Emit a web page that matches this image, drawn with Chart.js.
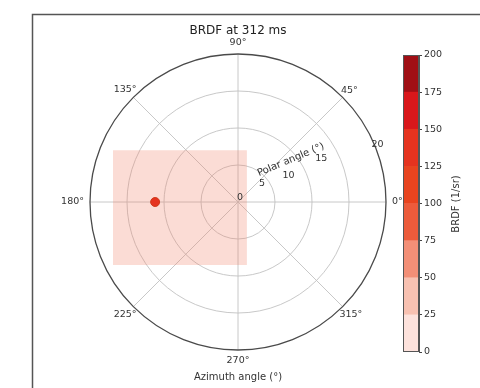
<!DOCTYPE html>
<html lang="en">
<head>
  <meta charset="UTF-8">
  <title>BRDF at 312 ms</title>
  <script src="https://cdn.jsdelivr.net/npm/chart.js"></script>
  <style>
    body { margin: 0; background: #fff; }
    .wrap { position: relative; width: 480px; height: 388px; }
    #polar { position: absolute; left: 0; top: 0; }
    #cbar { position: absolute; left: 398px; top: 45px; }
  </style>
</head>
<body>
  <div class="wrap">
    <canvas id="polar" width="480" height="388"></canvas>
    <canvas id="cbar" width="51" height="317"></canvas>
  </div>

  <script>
    // polar axes
    const azimuthTicks = [0, 45, 90, 135, 180, 225, 270, 315];
    const polarTicks = [5, 10, 15];
    const polarMax = 20;

    // pale footprint (cartesian, degrees of polar angle)
    const rectX = [-16.9, 1.2];
    const rectTop = [7.0, 7.0];
    const rectBottom = [-8.5, -8.5];

    // bright spot
    const spotAzimuth = [180];
    const spotPolar = [11.2];
    const spotValue = [130];

    // colour bar
    const cbTicks = [0, 25, 50, 75, 100, 125, 150, 175, 200];
    const cbColors = ['#fde2dc', '#f8c1b1', '#f38f77', '#ec5b3b', '#e8441f', '#e5331f', '#d9171b', '#a00f15'];

    const FONT = "'DejaVu Sans', sans-serif";
    const toXY = (az, r) => ({ x: r * Math.cos(az * Math.PI / 180), y: r * Math.sin(az * Math.PI / 180) });
    const levelColor = v => cbColors[Math.min(cbColors.length - 1, Math.floor(v / 25))];

    const polarDecor = {
      id: 'polarDecor',
      beforeDatasetsDraw(chart) {
        const { ctx, scales: { x, y } } = chart;
        const cx = x.getPixelForValue(0), cy = y.getPixelForValue(0);
        const k = x.getPixelForValue(1) - cx;
        ctx.save();
        ctx.strokeStyle = '#c2c2c2';
        ctx.lineWidth = 0.9;
        polarTicks.forEach(r => {
          ctx.beginPath();
          ctx.arc(cx, cy, r * k, 0, Math.PI * 2);
          ctx.stroke();
        });
        azimuthTicks.forEach(a => {
          const p = toXY(a, polarMax);
          ctx.beginPath();
          ctx.moveTo(cx, cy);
          ctx.lineTo(x.getPixelForValue(p.x), y.getPixelForValue(p.y));
          ctx.stroke();
        });
        ctx.restore();
      },
      afterDraw(chart) {
        const { ctx, scales: { x, y } } = chart;
        const cx = x.getPixelForValue(0), cy = y.getPixelForValue(0);
        const k = x.getPixelForValue(1) - cx;
        const R = polarMax * k;
        ctx.save();
        // outer spine
        ctx.strokeStyle = '#4a4a4a';
        ctx.lineWidth = 1.3;
        ctx.beginPath();
        ctx.arc(cx, cy, R, 0, Math.PI * 2);
        ctx.stroke();

        ctx.fillStyle = '#333';
        ctx.textAlign = 'center';
        ctx.textBaseline = 'middle';
        ctx.font = '9.5px ' + FONT;
        // azimuth labels
        azimuthTicks.forEach(a => {
          const t = a + '°';
          const w = ctx.measureText(t).width;
          const c = Math.cos(a * Math.PI / 180), s = Math.sin(a * Math.PI / 180);
          const d = R + 6 + Math.abs(c) * w / 2 + Math.abs(s) * 5 - (Math.abs(c) > 0.1 && Math.abs(s) > 0.1 ? 6 : 0);
          ctx.fillText(t, cx + c * d, cy - s * d);
        });
        // polar angle labels
        ctx.fillText('0', cx + 2, cy - 4);
        polarTicks.concat([polarMax]).forEach(r => {
          let p;
          if (r === polarMax) p = toXY(22.5, r + 0.4);
          else if (r === 5) p = toXY(38, 4.1);
          else p = toXY(27.5, r - 2.3);
          ctx.fillText(String(r), x.getPixelForValue(p.x), y.getPixelForValue(p.y));
        });
        const lp = toXY(36, 9);
        ctx.save();
        ctx.font = '10px ' + FONT;
        ctx.translate(x.getPixelForValue(lp.x) - 1, y.getPixelForValue(lp.y) - 3);
        ctx.rotate(-23 * Math.PI / 180);
        ctx.fillText('Polar angle (°)', 0, 0);
        ctx.restore();

        // axis titles
        ctx.font = '10px ' + FONT;
        ctx.fillText('Azimuth angle (°)', cx, 377);
        ctx.save();
        ctx.translate(456, 204);
        ctx.rotate(-Math.PI / 2);
        ctx.fillText('BRDF (1/sr)', 0, 0);
        ctx.restore();
        ctx.font = '12px ' + FONT;
        ctx.fillStyle = '#222';
        ctx.fillText('BRDF at 312 ms', cx, 31);

        // figure frame
        ctx.strokeStyle = '#555';
        ctx.lineWidth = 1.5;
        ctx.strokeRect(32.5, 14.5, 500, 420);
        ctx.restore();
      }
    };

    new Chart(document.getElementById('polar'), {
      type: 'scatter',
      data: {
        datasets: [
          {
            data: spotAzimuth.map((a, i) => toXY(a, spotPolar[i])),
            backgroundColor: spotValue.map(levelColor),
            borderColor: '#cf3a1b',
            borderWidth: 1,
            pointRadius: 4.5,
            order: 0
          },
          {
            data: rectX.map((v, i) => ({ x: v, y: rectTop[i] })),
            showLine: true,
            fill: '+1',
            backgroundColor: 'rgba(240,128,105,0.28)',
            borderWidth: 0,
            pointRadius: 0,
            order: 1
          },
          {
            data: rectX.map((v, i) => ({ x: v, y: rectBottom[i] })),
            showLine: true,
            borderWidth: 0,
            pointRadius: 0,
            order: 2
          }
        ]
      },
      options: {
        responsive: false,
        animation: false,
        layout: { padding: { left: 90, right: 94, top: 54, bottom: 38 } },
        plugins: { legend: { display: false }, tooltip: { enabled: false } },
        scales: {
          x: { display: false, min: -polarMax, max: polarMax },
          y: { display: false, min: -polarMax, max: polarMax }
        }
      },
      plugins: [polarDecor]
    });

    const cbFrame = {
      id: 'cbFrame',
      afterDraw(chart) {
        const { ctx, chartArea: a } = chart;
        ctx.save();
        ctx.strokeStyle = '#555';
        ctx.lineWidth = 1;
        ctx.strokeRect(a.left + 0.5, a.top + 0.5, a.right - a.left - 1, a.bottom - a.top - 1);
        ctx.restore();
      }
    };

    new Chart(document.getElementById('cbar'), {
      type: 'bar',
      data: {
        labels: ['cb'],
        datasets: cbColors.map((c, i) => ({
          data: [cbTicks[i + 1] - cbTicks[i]],
          backgroundColor: c,
          borderWidth: 0,
          barPercentage: 1,
          categoryPercentage: 1
        }))
      },
      options: {
        responsive: false,
        animation: false,
        layout: { padding: { left: 5, right: 0, top: 10, bottom: 10 } },
        plugins: { legend: { display: false }, tooltip: { enabled: false } },
        scales: {
          x: { display: false, stacked: true },
          y: {
            stacked: true,
            position: 'right',
            min: cbTicks[0],
            max: cbTicks[cbTicks.length - 1],
            afterBuildTicks: s => { s.ticks = cbTicks.map(v => ({ value: v })); },
            afterFit: s => { s.width = 30; },
            ticks: { color: '#333', padding: 2, font: { family: 'DejaVu Sans', size: 9.5 } },
            grid: { drawOnChartArea: false, tickLength: 3, color: '#444' },
            border: { color: '#555' }
          }
        }
      },
      plugins: [cbFrame]
    });
  </script>
</body>
</html>
